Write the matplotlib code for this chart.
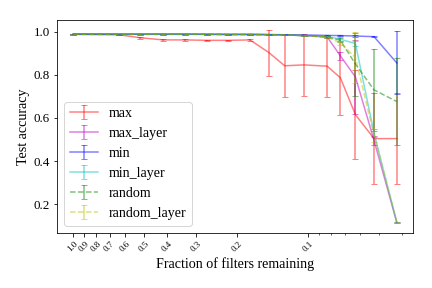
import numpy as np
import matplotlib
matplotlib.use("Agg")
import matplotlib.pyplot as plt
from matplotlib.ticker import NullFormatter

plt.rcParams["font.family"] = "serif"
plt.rcParams["font.serif"] = ["Liberation Serif", "DejaVu Serif"]
plt.rcParams["font.size"] = 14

# ===================== DATA =====================

fractions = [1.0, 0.64, 0.52, 0.414, 0.335, 0.27, 0.219, 0.177, 0.147,
             0.126, 0.104, 0.083, 0.073, 0.063, 0.0525, 0.042]

max_acc = [0.988, 0.986, 0.972, 0.962, 0.962, 0.96, 0.96, 0.962, 0.903,
           0.842, 0.846, 0.84, 0.786, 0.615, 0.504, 0.504]
max_err = [0.002, 0.002, 0.004, 0.003, 0.003, 0.003, 0.003, 0.003, 0.107,
           0.143, 0.145, 0.141, 0.171, 0.207, 0.21, 0.21]

max_layer_acc = [0.988, 0.988, 0.988, 0.988, 0.988, 0.988, 0.987, 0.987, 0.986,
                 0.985, 0.982, 0.975, 0.888, 0.79, 0.496, 0.115]
max_layer_err = [0.001, 0.001, 0.001, 0.001, 0.001, 0.001, 0.001, 0.001, 0.002,
                 0.002, 0.003, 0.005, 0.02, 0.17, 0.02, 0.004]

min_acc = [0.989, 0.989, 0.989, 0.989, 0.989, 0.988, 0.988, 0.988, 0.987,
           0.986, 0.985, 0.983, 0.982, 0.98, 0.977, 0.855]
min_err = [0.001, 0.001, 0.001, 0.001, 0.001, 0.001, 0.001, 0.001, 0.001,
           0.002, 0.002, 0.002, 0.003, 0.004, 0.003, 0.146]

min_layer_acc = [0.988, 0.988, 0.988, 0.988, 0.988, 0.988, 0.987, 0.987, 0.986,
                 0.985, 0.982, 0.978, 0.965, 0.945, 0.53, 0.115]
min_layer_err = [0.001, 0.001, 0.001, 0.001, 0.001, 0.001, 0.001, 0.001, 0.002,
                 0.002, 0.003, 0.004, 0.01, 0.01, 0.02, 0.004]

random_acc = [0.988, 0.988, 0.988, 0.988, 0.988, 0.988, 0.987, 0.987, 0.986,
              0.985, 0.982, 0.975, 0.96, 0.85, 0.73, 0.676]
random_err = [0.001, 0.001, 0.001, 0.001, 0.001, 0.001, 0.001, 0.001, 0.002,
              0.002, 0.003, 0.004, 0.01, 0.146, 0.19, 0.2]

random_layer_acc = [0.988, 0.988, 0.988, 0.988, 0.988, 0.988, 0.987, 0.987, 0.986,
                    0.985, 0.982, 0.975, 0.948, 0.88, 0.52, 0.115]
random_layer_err = [0.001, 0.001, 0.001, 0.001, 0.001, 0.001, 0.001, 0.001, 0.002,
                    0.002, 0.003, 0.004, 0.01, 0.12, 0.03, 0.004]

tick_values = [1.0, 0.9, 0.8, 0.7, 0.6, 0.5, 0.4, 0.3, 0.2, 0.1]
tick_labels = ["1.0", "0.9", "0.8", "0.7", "0.6", "0.5", "0.4", "0.3", "0.2", "0.1"]

# ===================== PLOT =====================

series = [
    ("max", max_acc, max_err, "r", "-"),
    ("max_layer", max_layer_acc, max_layer_err, "m", "-"),
    ("min", min_acc, min_err, "b", "-"),
    ("min_layer", min_layer_acc, min_layer_err, "c", "-"),
    ("random", random_acc, random_err, "g", "--"),
    ("random_layer", random_layer_acc, random_layer_err, "y", "--"),
]

fig, ax = plt.subplots(figsize=(6, 4), dpi=72)
fig.subplots_adjust(left=0.132, right=0.956, top=0.931, bottom=0.191)

for name, acc, err, color, ls in series:
    ax.errorbar(fractions, acc, yerr=err, color=color, linestyle=ls,
                alpha=0.5, capsize=3, label=name)

ax.set_xscale("log")
ax.invert_xaxis()
ax.set_xticks(tick_values)
ax.set_xticklabels(tick_labels, rotation=45, fontsize=9)
ax.xaxis.set_minor_formatter(NullFormatter())
ax.tick_params(axis="y", labelsize=13)

ax.set_xlabel("Fraction of filters remaining")
ax.set_ylabel("Test accuracy")
ax.legend(loc="lower left")

fig.savefig("out.png", dpi=72)
